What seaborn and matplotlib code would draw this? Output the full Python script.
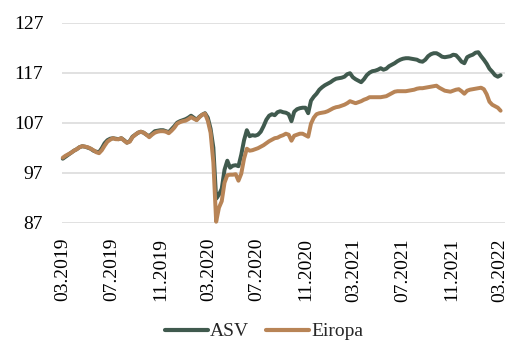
import matplotlib
matplotlib.use("Agg")
import matplotlib.pyplot as plt
import matplotlib.dates as mdates
from matplotlib.lines import Line2D
import numpy as np
import pandas as pd
import seaborn as sns

# ---- data (weekly index values) ----
start_date = "2019-03-01"
series_names = ["ASV", "Eiropa"]

asv = [
    99.8, 100.2, 100.6, 101.0, 101.4, 101.7, 102.1, 102.3, 102.2, 102.0,
    101.8, 101.4, 101.2, 101.1, 101.9, 102.9, 103.5, 103.8, 103.9, 103.8,
    103.7, 103.9, 103.5, 103.0, 103.3, 104.2, 104.6, 105.0, 105.2, 105.0,
    104.6, 104.3, 104.8, 105.3, 105.4, 105.5, 105.5, 105.3, 105.1, 105.7,
    106.3, 107.0, 107.3, 107.5, 107.7, 108.0, 108.4, 108.0, 107.6, 108.2,
    108.6, 108.9, 108.0, 105.8, 102.0, 91.8, 92.6, 93.8, 97.6, 99.4,
    98.0, 98.4, 98.5, 98.3, 100.6, 103.5, 105.5, 104.3, 104.5, 104.4,
    104.6, 105.2, 106.3, 107.6, 108.4, 108.7, 108.5, 109.1, 109.3, 109.1,
    109.0, 108.7, 107.3, 109.2, 109.7, 109.9, 110.0, 110.0, 108.9, 111.4,
    112.2, 112.8, 113.6, 114.1, 114.5, 114.8, 115.1, 115.5, 115.8, 115.9,
    116.0, 116.2, 116.7, 116.9, 116.1, 115.7, 115.4, 115.1, 115.7, 116.5,
    117.0, 117.3, 117.4, 117.6, 117.9, 117.6, 117.8, 118.3, 118.6, 118.9,
    119.3, 119.6, 119.8, 119.9, 119.9, 119.8, 119.7, 119.6, 119.3, 119.2,
    119.6, 120.3, 120.7, 120.9, 120.9, 120.6, 120.2, 120.1, 120.2, 120.3,
    120.6, 120.5, 119.9, 119.2, 118.9, 120.1, 120.4, 120.6, 121.0, 121.1,
    120.3, 119.6, 118.8, 117.8, 117.2, 116.5, 116.2, 116.5,
]

eiropa = [
    100.0, 100.4, 100.7, 101.0, 101.4, 101.7, 102.1, 102.3, 102.2, 102.1,
    101.8, 101.5, 101.1, 100.9, 101.5, 102.4, 103.2, 103.6, 103.9, 103.7,
    103.7, 103.9, 103.4, 103.0, 103.2, 104.1, 104.6, 105.0, 105.2, 105.0,
    104.6, 104.1, 104.6, 105.0, 105.2, 105.3, 105.3, 105.2, 104.9, 105.4,
    106.0, 106.8, 107.1, 107.3, 107.4, 107.7, 108.1, 107.8, 107.5, 108.1,
    108.6, 108.8, 107.4, 105.0, 99.0, 87.2, 90.0, 91.3, 95.0, 96.5,
    96.6, 96.6, 96.7, 95.4, 96.8, 99.8, 101.8, 101.4, 101.5, 101.7,
    101.9, 102.2, 102.5, 102.9, 103.3, 103.6, 103.9, 104.0, 104.3, 104.5,
    104.8, 104.6, 103.4, 104.4, 104.6, 104.8, 104.8, 104.5, 104.2, 106.8,
    108.0, 108.7, 108.9, 109.0, 109.1, 109.3, 109.6, 109.9, 110.1, 110.2,
    110.4, 110.6, 110.9, 111.3, 111.1, 110.9, 111.1, 111.3, 111.6, 111.8,
    112.1, 112.1, 112.1, 112.1, 112.1, 112.2, 112.3, 112.6, 112.9, 113.2,
    113.3, 113.3, 113.3, 113.3, 113.4, 113.5, 113.6, 113.8, 113.9, 113.9,
    114.0, 114.1, 114.2, 114.3, 114.4, 114.0, 113.7, 113.4, 113.3, 113.2,
    113.4, 113.6, 113.7, 113.3, 112.8, 113.4, 113.6, 113.7, 113.8, 113.9,
    114.0, 113.7, 112.7, 111.2, 110.6, 110.3, 110.0, 109.4,
]

y_ticks = [87, 97, 107, 117, 127]
x_tick_dates = ["2019-03-01", "2019-07-01", "2019-11-01", "2020-03-01",
                "2020-07-01", "2020-11-01", "2021-03-01", "2021-07-01",
                "2021-11-01", "2022-03-01"]

dates = pd.date_range(start_date, periods=len(asv), freq="7D")
df = pd.DataFrame({
    "date": np.concatenate([dates, dates]),
    "value": asv + eiropa,
    "series": [series_names[0]] * len(asv) + [series_names[1]] * len(eiropa),
})

# ---- style ----
sns.set_style("white")
plt.rcParams["font.family"] = ["Liberation Serif", "DejaVu Serif"]
plt.rcParams["font.size"] = 14

palette = {"ASV": "#405A4E", "Eiropa": "#B88456"}

fig = plt.figure(figsize=(5.28, 3.64), dpi=100)
ax = fig.add_axes([0.1174, 0.3882, 0.8390, 0.5494])

sns.lineplot(data=df, x="date", y="value", hue="series", hue_order=series_names,
             palette=palette, linewidth=2.85, ax=ax, legend=False)
for ln in ax.lines:
    ln.set_clip_on(False)
    ln.set_solid_joinstyle("round")
    ln.set_solid_capstyle("round")

ax.set_ylim(87, 127)
ax.set_yticks(y_ticks)
ax.set_xlim(pd.Timestamp(start_date) - pd.Timedelta(days=2),
            pd.Timestamp(start_date) + pd.Timedelta(days=1110))
ax.set_xticks(pd.to_datetime(x_tick_dates))
ax.xaxis.set_major_formatter(mdates.DateFormatter("%m.%Y"))
plt.setp(ax.get_xticklabels(), rotation=90, ha="center")

ax.grid(axis="y", color="#D9D9D9", linewidth=1.1)
ax.grid(axis="x", visible=False)
ax.set_axisbelow(True)
for s in ax.spines.values():
    s.set_visible(False)
ax.tick_params(axis="both", length=0, labelsize=14, colors="black")
ax.tick_params(axis="y", pad=13.5)
ax.tick_params(axis="x", pad=11)
ax.set_xlabel("")
ax.set_ylabel("")

handles = [Line2D([], [], color=palette[n], linewidth=3.0, solid_capstyle="round")
           for n in series_names]
fig.legend(handles, series_names, loc="center", bbox_to_anchor=(0.5, 0.089),
           ncol=2, frameon=False, handlelength=2.2, handletextpad=0.1,
           columnspacing=0.9, fontsize=14)

fig.savefig("out.png", dpi=100)
